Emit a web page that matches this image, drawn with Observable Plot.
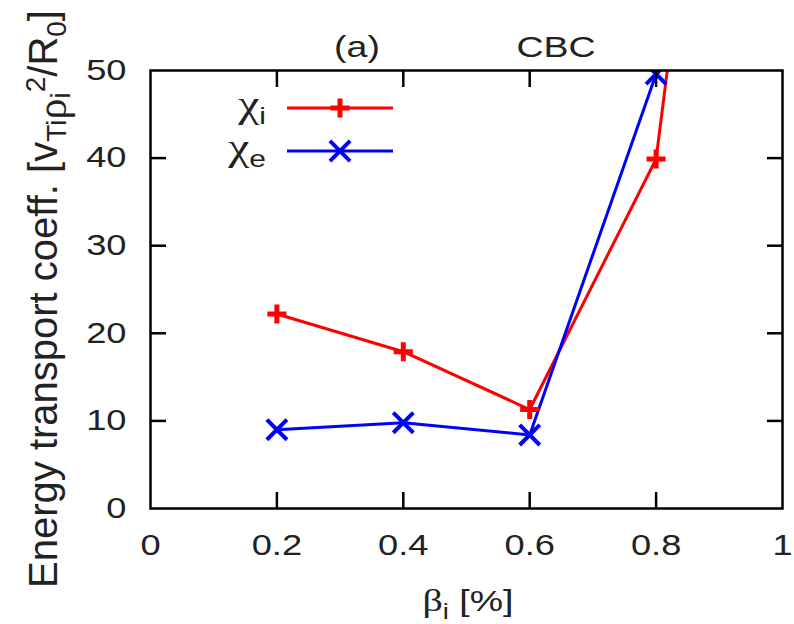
<!DOCTYPE html>
<html><head><meta charset="utf-8">
<script src="https://cdn.jsdelivr.net/npm/d3@7"></script>
<script src="https://cdn.jsdelivr.net/npm/@observablehq/plot@0.6"></script>
<style>body{margin:0;background:#fff} #chart{width:794px;height:624px}</style>
</head><body><div id="chart"></div>
<script>
// data
const betaValues = [0.2, 0.4, 0.6, 0.8];
const chiIValues = [22.2, 17.9, 11.3, 39.9];
const chiEValues = [9.0, 9.8, 8.4, 49.6];
// the chi_i curve continues past the top of the frame
const chiIBeyondBeta = [0.9];
const chiIBeyondValues = [97];
const xTicks = [0, 0.2, 0.4, 0.6, 0.8, 1];
const yTicks = [0, 10, 20, 30, 40, 50];
const seriesLabels = [["χ", "i"], ["χ", "e"]];
const seriesColors = ["#ff0000", "#0000ff"];

const lineI = betaValues.map((b, i) => ({beta: b, v: chiIValues[i]}))
  .concat(chiIBeyondBeta.map((b, i) => ({beta: b, v: chiIBeyondValues[i]})));
const dotsI = betaValues.map((b, i) => ({beta: b, v: chiIValues[i]}));
const lineE = betaValues.map((b, i) => ({beta: b, v: chiEValues[i]}));

const fmt = d => String(d);
const innerX = xTicks.slice(1, -1);
const innerY = yTicks.slice(1, -1);
const font = "Liberation Sans, Arial, sans-serif";
const greekFont = "Liberation Serif, serif";
const stretch = 1.25;

const svg = Plot.plot({
  width: 794, height: 624,
  marginLeft: 150, marginRight: 12, marginTop: 70, marginBottom: 116,
  style: {fontFamily: font, fontSize: "29px", color: "#222", background: "white", overflow: "visible"},
  x: {domain: [0, 1]},
  y: {domain: [0, 50]},
  marks: [
    Plot.line(lineI, {x: "beta", y: "v", stroke: seriesColors[0], strokeWidth: 3, clip: true}),
    Plot.line(lineE, {x: "beta", y: "v", stroke: seriesColors[1], strokeWidth: 3, clip: true}),
    Plot.dot(dotsI, {x: "beta", y: "v", symbol: "plus", r: 6.2, stroke: seriesColors[0], strokeWidth: 5, clip: true}),
    Plot.dot(lineE, {x: "beta", y: "v", symbol: "times", r: 9.2, stroke: seriesColors[1], strokeWidth: 4, clip: true}),
    Plot.axisX(innerX, {anchor: "bottom", tickSize: -16, fill: "none", stroke: "black", strokeWidth: 2.5, label: null}),
    Plot.axisX(innerX, {anchor: "top", tickSize: -16, fill: "none", stroke: "black", strokeWidth: 2.5, label: null}),
    Plot.axisY(innerY, {anchor: "left", tickSize: -16, fill: "none", stroke: "black", strokeWidth: 2.5, label: null}),
    Plot.axisY(innerY, {anchor: "right", tickSize: -16, fill: "none", stroke: "black", strokeWidth: 2.5, label: null}),
    Plot.axisX(xTicks, {anchor: "bottom", tickSize: 0, tickPadding: 26, tickFormat: fmt, label: null, fill: "#222"}),
    Plot.axisY(yTicks, {anchor: "left", tickSize: 0, tickPadding: 24, tickFormat: fmt, label: null, fill: "#222"}),
    Plot.frame({stroke: "black", strokeWidth: 2.5})
  ]
});
document.getElementById("chart").appendChild(svg);

const s = d3.select(svg);
// widen the tick labels horizontally like the reference typeface
s.selectAll('g[aria-label$="tick label"] text').each(function() {
  const el = d3.select(this);
  const tr = el.attr("transform");
  if (tr) el.attr("transform", tr + ` scale(${stretch},1)`);
  else {
    const x = +el.attr("x") || 0, y = +el.attr("y") || 0;
    el.attr("x", null).attr("y", null).attr("transform", `translate(${x},${y}) scale(${stretch},1)`);
  }
});

function label(x, y, anchor, size) {
  return s.append("text").attr("transform", `translate(${x},${y}) scale(${stretch},1)`)
    .attr("text-anchor", anchor).attr("font-family", font).attr("font-size", size).attr("fill", "#222");
}
// titles
label(357, 57, "middle", 30).text("(a)");
label(556, 57, "middle", 30).text("CBC");

// x label
const xl = label(468, 611, "middle", 30);
xl.append("tspan").attr("font-family", greekFont).attr("font-size", 32).text("β");
xl.append("tspan").attr("dy", 8).attr("font-size", 22).text("i");
xl.append("tspan").attr("dy", -8).text(" [%]");

// y label
const yl = s.append("text").attr("transform", "translate(57,299) rotate(-90)").attr("text-anchor", "middle")
  .attr("font-family", font).attr("font-size", 40).attr("fill", "#222");
yl.append("tspan").text("Energy transport coeff. [v");
yl.append("tspan").attr("dy", 9).attr("font-size", 28).text("Ti");
yl.append("tspan").attr("font-family", greekFont).attr("font-size", 42).text("ρ");
yl.append("tspan").attr("dy", 4).attr("font-size", 28).text("i");
yl.append("tspan").attr("dy", -25).attr("font-size", 28).text("2");
yl.append("tspan").attr("dy", 12).text("/R");
yl.append("tspan").attr("dy", 9).attr("font-size", 28).text("0");
yl.append("tspan").attr("dy", -9).text("]");

// legend
const legY = [108, 151];
seriesLabels.forEach((lab, k) => {
  const y = legY[k];
  const t = label(266, y + 9, "end", 34);
  t.append("tspan").attr("font-family", greekFont).attr("font-size", 38).text(lab[0]);
  t.append("tspan").attr("dy", 7).attr("font-size", 24).text(lab[1]);
  s.append("line").attr("x1", 287).attr("x2", 393).attr("y1", y).attr("y2", y)
    .attr("stroke", seriesColors[k]).attr("stroke-width", 3);
  const sym = k === 0 ? d3.symbolPlus : d3.symbolTimes;
  const size = k === 0 ? Math.PI * 6.2 * 6.2 : Math.PI * 9.2 * 9.2;
  s.append("path").attr("d", d3.symbol(sym, size)()).attr("transform", `translate(340,${y})`)
    .attr("fill", "none").attr("stroke", seriesColors[k]).attr("stroke-width", k === 0 ? 5 : 4);
});
</script>
</body></html>
